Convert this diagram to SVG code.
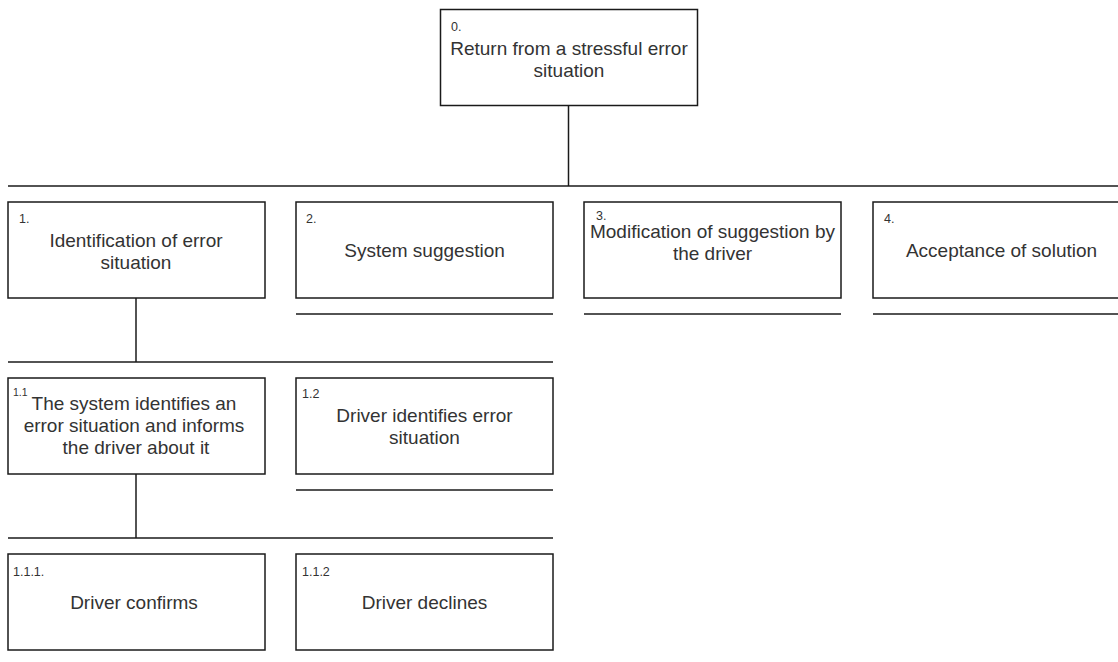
<svg xmlns="http://www.w3.org/2000/svg" width="1118" height="662" viewBox="0 0 1118 662">
<style>
.box{fill:#fff;stroke:#1a1a1a;stroke-width:1.5}
.ln{stroke:#1a1a1a;stroke-width:1.5;fill:none}
.t{font-family:"Liberation Sans",Arial,sans-serif;font-size:19px;fill:#333;text-anchor:middle}
.n{font-family:"Liberation Sans",Arial,sans-serif;font-size:12.5px;fill:#333}
.s{font-family:"Liberation Sans",Arial,sans-serif;font-size:10.5px;fill:#333}
</style>
<rect width="1118" height="662" fill="#fff"/>
<g id="connectors">
<line class="ln" x1="568.5" y1="106" x2="568.5" y2="186"/>
<line class="ln" x1="8" y1="186" x2="1118" y2="186"/>
<line class="ln" x1="136" y1="298" x2="136" y2="362"/>
<line class="ln" x1="8" y1="362" x2="553" y2="362"/>
<line class="ln" x1="296" y1="314" x2="553" y2="314"/>
<line class="ln" x1="584" y1="314" x2="841" y2="314"/>
<line class="ln" x1="873" y1="314" x2="1118" y2="314"/>
<line class="ln" x1="136" y1="474" x2="136" y2="538"/>
<line class="ln" x1="8" y1="538" x2="553" y2="538"/>
<line class="ln" x1="296" y1="490" x2="553" y2="490"/>
</g>
<g id="node-0">
<rect class="box" x="440.5" y="9.5" width="257" height="96"/>
<text class="n" x="451" y="31">0.</text>
<text class="t" x="569" y="55">Return from a stressful error</text>
<text class="t" x="569" y="77">situation</text>
</g>
<g id="node-1">
<rect class="box" x="8" y="202" width="257" height="96"/>
<text class="n" x="19" y="223">1.</text>
<text class="t" x="136" y="247">Identification of error</text>
<text class="t" x="136" y="269">situation</text>
</g>
<g id="node-2">
<rect class="box" x="296" y="202" width="257" height="96"/>
<text class="n" x="306" y="223">2.</text>
<text class="t" x="424.5" y="257">System suggestion</text>
</g>
<g id="node-3">
<rect class="box" x="584" y="202" width="257" height="96"/>
<text class="n" x="596" y="220">3.</text>
<text class="t" x="712.5" y="238">Modification of suggestion by</text>
<text class="t" x="712.5" y="260">the driver</text>
</g>
<g id="node-4">
<rect class="box" x="873" y="202" width="257" height="96"/>
<text class="n" x="884" y="223">4.</text>
<text class="t" x="1001.5" y="257">Acceptance of solution</text>
</g>
<g id="node-1-1">
<rect class="box" x="8" y="378" width="257" height="96"/>
<text class="s" x="13" y="396">1.1</text>
<text class="t" x="134" y="410">The system identifies an</text>
<text class="t" x="134" y="432">error situation and informs</text>
<text class="t" x="136" y="454">the driver about it</text>
</g>
<g id="node-1-2">
<rect class="box" x="296" y="378" width="257" height="96"/>
<text class="n" x="302" y="398">1.2</text>
<text class="t" x="424.5" y="422">Driver identifies error</text>
<text class="t" x="424.5" y="444">situation</text>
</g>
<g id="node-1-1-1">
<rect class="box" x="8" y="554" width="257" height="96"/>
<text class="n" x="13" y="576">1.1.1.</text>
<text class="t" x="134" y="609">Driver confirms</text>
</g>
<g id="node-1-1-2">
<rect class="box" x="296" y="554" width="257" height="96"/>
<text class="n" x="302" y="576">1.1.2</text>
<text class="t" x="424.5" y="609">Driver declines</text>
</g>
</svg>
